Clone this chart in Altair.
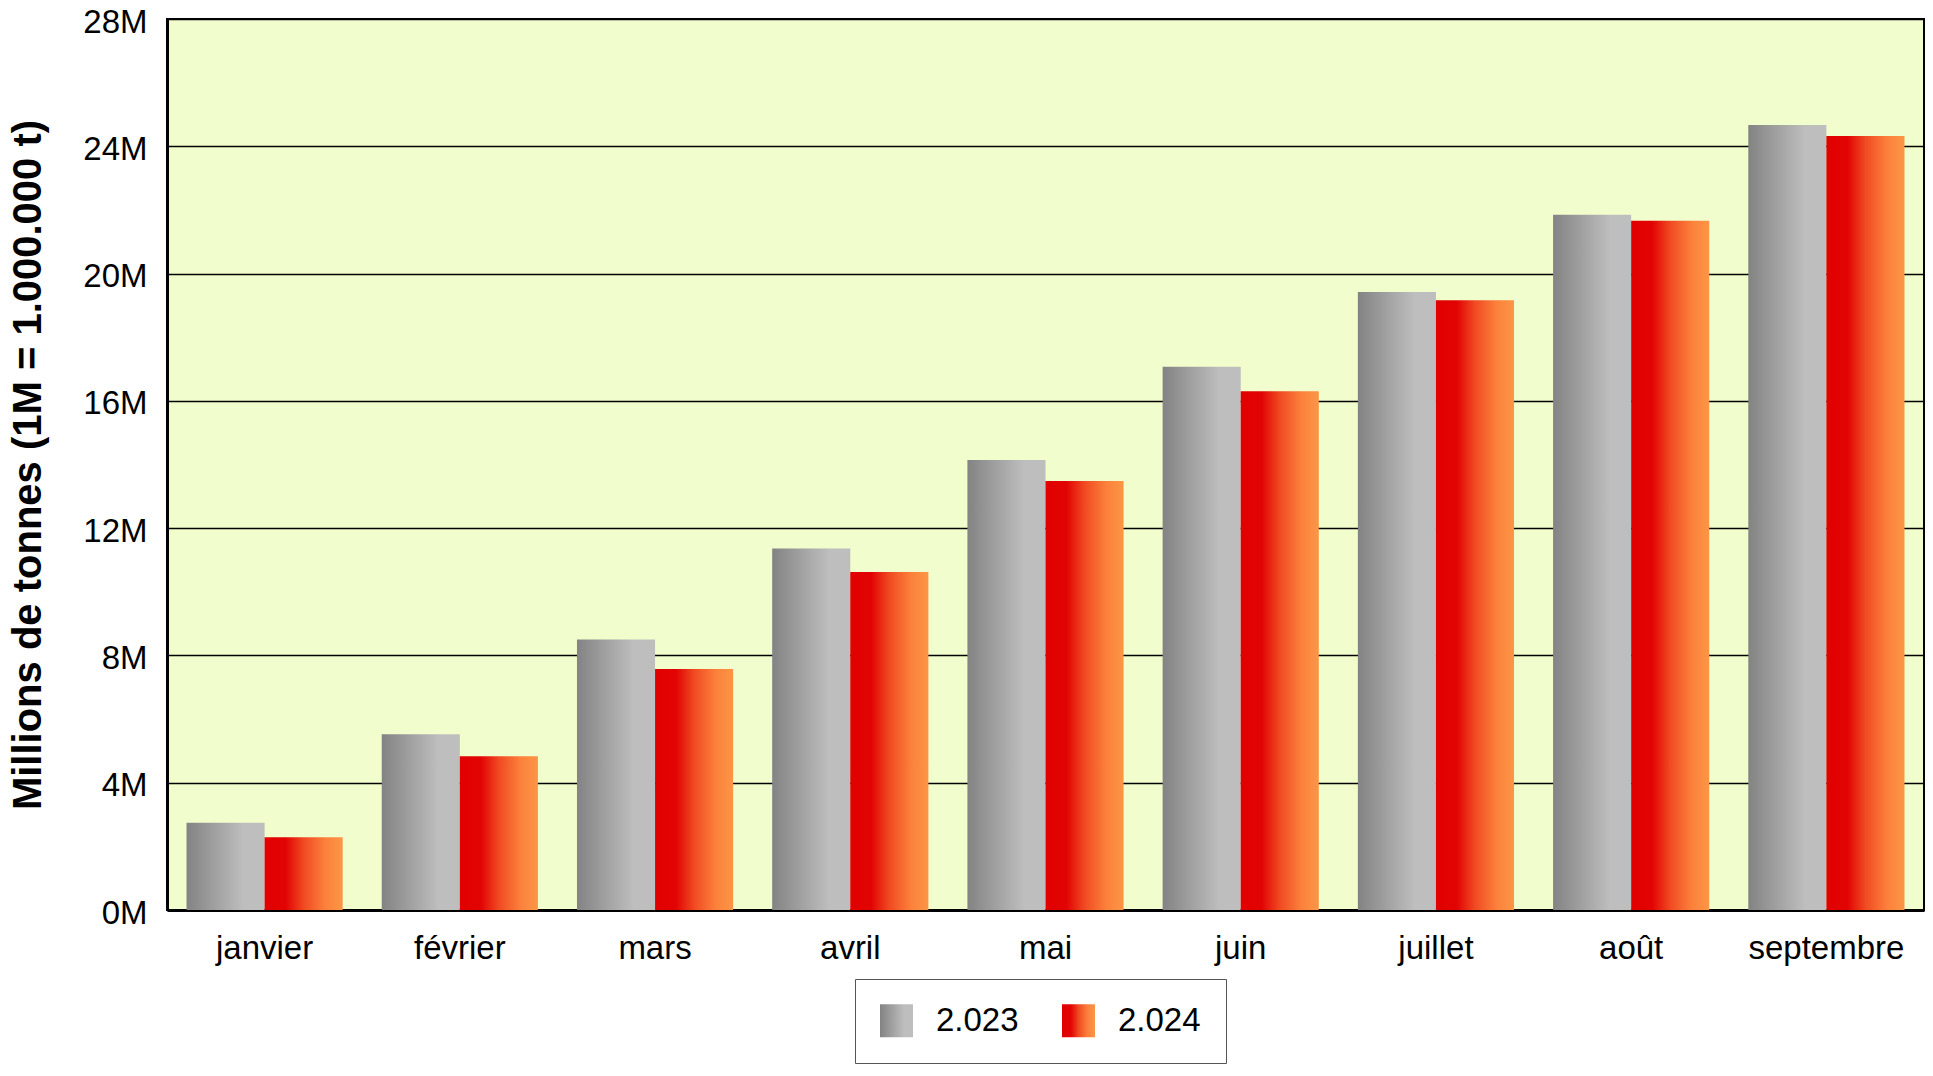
import altair as alt
import pandas as pd

months = ["janvier", "février", "mars", "avril", "mai", "juin", "juillet", "août", "septembre"]
years = ["2.023", "2.024"]
v2023 = [2.74, 5.52, 8.50, 11.36, 14.14, 17.07, 19.42, 21.85, 24.67]
v2024 = [2.29, 4.83, 7.57, 10.62, 13.48, 16.30, 19.16, 21.66, 24.32]
y_ticks = [0, 4, 8, 12, 16, 20, 24, 28]

rows = []
for m, a, b in zip(months, v2023, v2024):
    rows.append({"month": m, "year": years[0], "value": a})
    rows.append({"month": m, "year": years[1], "value": b})
df = pd.DataFrame(rows)

FONT = "Liberation Sans"

gray_stops = [(0, "#838383"), (0.73, "#bebebe"), (1, "#bebebe")]
red_stops = [(0, "#e10000"), (0.27, "#e20404"), (0.5, "#f04a22"), (0.78, "#fc813c"), (1, "#fb9646")]


def grad_expr(stops):
    s = ", ".join("{offset: %s, color: '%s'}" % (o, c) for o, c in stops)
    return "{gradient: 'linear', x1: 0, y1: 0, x2: 1, y2: 0, stops: [%s]}" % s


color_range = [alt.ExprRef(expr=grad_expr(gray_stops)), alt.ExprRef(expr=grad_expr(red_stops))]

x_enc = alt.X(
    "month:N", sort=months, title=None,
    scale=alt.Scale(paddingInner=0.2, paddingOuter=0.1),
    axis=alt.Axis(labelAngle=0, labelFontSize=33, labelFont=FONT, labelColor="black",
                  ticks=False, domainColor="black", domainWidth=3, labelPadding=22,
                  grid=False),
)
xoff_enc = alt.XOffset("year:N", scale=alt.Scale(domain=years, paddingInner=0, paddingOuter=0))
y_enc = alt.Y(
    "value:Q", title="Millions de tonnes (1M = 1.000.000 t)",
    scale=alt.Scale(domain=[0, 28], nice=False),
    axis=alt.Axis(values=y_ticks, labelExpr="datum.value + 'M'", labelFontSize=33,
                  labelFont=FONT, labelColor="black", ticks=False, domainColor="black",
                  domainWidth=3, gridColor="black", gridWidth=1.5, labelPadding=20,
                  labelOffset=3,
                  titleFontSize=40, titleFont=FONT, titleFontWeight="bold",
                  titleColor="black", titlePadding=34),
)

chart = alt.Chart(df).mark_bar(strokeWidth=0, opacity=1).encode(
    x=x_enc, xOffset=xoff_enc, y=y_enc,
    color=alt.Color(
        "year:N",
        scale=alt.Scale(domain=years, range=color_range),
        legend=alt.Legend(
            title=None, orient="none", legendX=688, legendY=960, direction="horizontal",
            symbolType="square", symbolSize=1089, symbolOpacity=1, symbolStrokeWidth=0,
            labelFontSize=33, labelFont=FONT, labelColor="black", labelOffset=23,
            columnPadding=43, padding=25, strokeColor="#555555", fillColor="white",
        ),
    ),
).properties(
    width=1757, height=891,
    padding={"left": 159, "top": 11, "right": 1, "bottom": 156},
    autosize=alt.AutoSizeParams(type="none"),
    background="white",
).configure_view(
    fill="#f2fdcd", stroke="black", strokeWidth=2,
)

chart.save("out.html", embed_options={"renderer": "svg", "actions": False})
